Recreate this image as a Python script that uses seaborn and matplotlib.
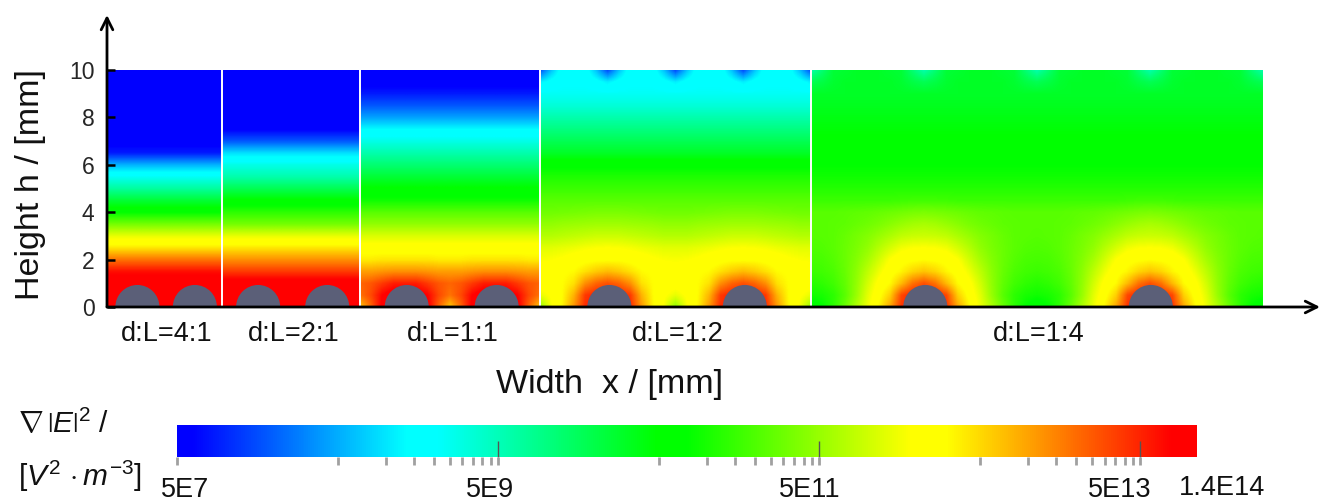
import numpy as np
import matplotlib
matplotlib.use("Agg")
import matplotlib.pyplot as plt
from matplotlib.colors import LogNorm, LinearSegmentedColormap
from matplotlib.cm import ScalarMappable
from matplotlib.patches import Circle, Rectangle
from matplotlib.transforms import blended_transform_factory
import seaborn as sns

# ---------- data ----------
panel_names = ["d:L=4:1", "d:L=2:1", "d:L=1:1", "d:L=1:2", "d:L=1:4"]
panel_edges_mm = [0.0, 4.85, 10.68, 18.27, 29.7, 48.73]
wire_radius_mm = 0.93
y_ticks = [0, 2, 4, 6, 8, 10]

# Rows run y = 10 ... 0 mm in 0.5 mm steps; columns run from above a wire to the midpoint.
p1_profile = [0, 0, 0, 0, 0, 0, 0, 0.15, 0.65, 1.05, 1.35, 1.7, 2, 2.4, 2.8, 3.1, 3.5, 3.85, 4, 4, 4]
p2_profile = [0, 0, 0, 0, 0, 0.05, 0.35, 0.8, 1.1, 1.3, 1.6, 1.9, 2.15, 2.4, 2.8, 3.1, 3.4, 3.7, 4, 4, 4]
p3_upper = [0.05, 0, 0.15, 0.35, 0.6, 0.9, 1.1, 1.3, 1.5, 1.7, 1.9, 2.05, 2.3, 2.5, 2.75, 2.95]
p3_lower = [
    [3.1, 3.1, 3.1, 3.08, 3.08],
    [3.4, 3.4, 3.38, 3.35, 3.35],
    [3.8, 3.8, 3.7, 3.6, 3.55],
    [4, 4, 3.9, 3.65, 3.5],
    [4, 4, 3.95, 3.55, 3.2],
]
p4_grid = [
    [0.3, 0.7, 1, 1, 1, 0.7, 0.3],
    [0.85, 0.95, 1, 1, 1, 0.95, 0.85],
    [1.05, 1.05, 1.05, 1.05, 1.05, 1.05, 1.05],
    [1.15, 1.15, 1.15, 1.15, 1.15, 1.15, 1.15],
    [1.3, 1.3, 1.3, 1.3, 1.3, 1.3, 1.3],
    [1.45, 1.45, 1.45, 1.45, 1.45, 1.45, 1.45],
    [1.6, 1.6, 1.6, 1.6, 1.6, 1.6, 1.6],
    [1.75, 1.75, 1.75, 1.75, 1.75, 1.75, 1.75],
    [1.97, 1.97, 1.97, 1.97, 1.97, 1.97, 1.97],
    [2.1, 2.1, 2.1, 2.1, 2.1, 2.1, 2.1],
    [2.2, 2.2, 2.2, 2.2, 2.2, 2.2, 2.2],
    [2.3, 2.3, 2.3, 2.3, 2.3, 2.3, 2.3],
    [2.42, 2.42, 2.41, 2.4, 2.39, 2.38, 2.38],
    [2.55, 2.55, 2.54, 2.53, 2.52, 2.5, 2.5],
    [2.7, 2.7, 2.68, 2.66, 2.64, 2.62, 2.62],
    [2.88, 2.87, 2.85, 2.82, 2.8, 2.78, 2.78],
    [3.0, 3.0, 2.98, 2.95, 2.9, 2.87, 2.86],
    [3.25, 3.2, 3.12, 3.03, 3.0, 2.95, 2.93],
    [3.62, 3.55, 3.4, 3.12, 3.02, 2.98, 2.95],
    [3.8, 3.8, 3.7, 3.28, 3.03, 2.9, 2.8],
    [3.8, 3.8, 3.75, 3.38, 3.05, 2.85, 2.5],
]
p5_grid = [
    [1.3, 1.5, 1.7, 1.72, 1.75, 1.75, 1.75, 1.72, 1.7, 1.5, 1.3],
    [1.6, 1.65, 1.72, 1.75, 1.75, 1.75, 1.75, 1.75, 1.72, 1.65, 1.6],
    [1.75, 1.75, 1.75, 1.75, 1.75, 1.75, 1.75, 1.75, 1.75, 1.75, 1.75],
    [1.78, 1.78, 1.78, 1.78, 1.78, 1.78, 1.78, 1.78, 1.78, 1.78, 1.78],
    [1.82, 1.82, 1.82, 1.82, 1.82, 1.82, 1.82, 1.82, 1.82, 1.82, 1.82],
    [1.86, 1.86, 1.86, 1.86, 1.86, 1.86, 1.86, 1.86, 1.86, 1.86, 1.86],
    [1.9, 1.9, 1.9, 1.9, 1.9, 1.9, 1.9, 1.9, 1.9, 1.9, 1.9],
    [1.95, 1.95, 1.95, 1.95, 1.95, 1.95, 1.95, 1.95, 1.95, 1.95, 1.95],
    [2, 2, 2, 2, 2, 2, 2, 2, 2, 2, 2],
    [2.05, 2.05, 2.05, 2.05, 2.05, 2.05, 2.05, 2.05, 2.05, 2.05, 2.05],
    [2.12, 2.12, 2.12, 2.12, 2.12, 2.12, 2.12, 2.12, 2.12, 2.12, 2.12],
    [2.22, 2.22, 2.21, 2.2, 2.2, 2.2, 2.2, 2.2, 2.2, 2.2, 2.2],
    [2.42, 2.41, 2.39, 2.37, 2.35, 2.33, 2.32, 2.31, 2.3, 2.3, 2.3],
    [2.58, 2.56, 2.52, 2.47, 2.42, 2.38, 2.35, 2.32, 2.31, 2.3, 2.3],
    [2.7, 2.69, 2.66, 2.59, 2.52, 2.45, 2.4, 2.35, 2.31, 2.3, 2.29],
    [2.88, 2.87, 2.83, 2.73, 2.62, 2.5, 2.42, 2.36, 2.31, 2.28, 2.27],
    [3.02, 3.0, 2.98, 2.88, 2.72, 2.57, 2.45, 2.36, 2.29, 2.25, 2.24],
    [3.22, 3.16, 3.05, 2.97, 2.82, 2.65, 2.48, 2.35, 2.26, 2.22, 2.2],
    [3.62, 3.5, 3.25, 3.03, 2.92, 2.72, 2.5, 2.33, 2.22, 2.16, 2.13],
    [3.8, 3.8, 3.65, 3.18, 2.98, 2.78, 2.52, 2.3, 2.15, 2.08, 2.05],
    [3.8, 3.8, 3.72, 3.33, 3.05, 2.82, 2.6, 2.36, 2.15, 2.0, 1.9],
]

bar_min = 5e7
bar_axis_max = 1.13e14
bar_major = [5e9, 5e11, 5e13]
bar_minor_steps = [1, 2, 3, 4, 5, 6, 7, 8, 9, 10]
bar_minor_decades = [5e8, 5e10, 5e12]
bar_labels = [(5e7, "5E7", 6), (5e9, "5E9", -6), (5e11, "5E11", -6.5), (5e13, "5E13", -15)]

# ---------- style ----------
sns.set_theme(style="white")
plt.rcParams["font.family"] = ["Liberation Sans", "DejaVu Sans"]
plt.rcParams["mathtext.fontset"] = "custom"
plt.rcParams["mathtext.rm"] = "Liberation Sans"
plt.rcParams["mathtext.it"] = "Liberation Sans:italic"
plt.rcParams["mathtext.bf"] = "Liberation Sans:bold"
stops = sns.color_palette(["#0000ff", "#00ffff", "#00ff00", "#ffff00", "#ff0000"])
cmap = LinearSegmentedColormap.from_list("field", [
    (0.0, stops[0]), (0.015, stops[0]), (0.225, stops[1]), (0.255, stops[1]),
    (0.47, stops[2]), (0.50, stops[2]), (0.72, stops[3]), (0.755, stops[3]),
    (0.975, stops[4]), (1.0, stops[4])], N=512)

W, H = 1321, 501
fig = plt.figure(figsize=(W / 100, H / 100), dpi=100, facecolor="white")
ax = fig.add_axes([107 / W, (H - 307) / H, (1320 - 107) / W, (307 - 15) / H])
ax.set_axisbelow(False)

p1_grid = [[v, v] for v in p1_profile]
p2_grid = [[v, v] for v in p2_profile]
p3_grid = [[v] * 5 for v in p3_upper] + p3_lower
half_periods = [p1_grid, p2_grid, p3_grid, p4_grid, p5_grid]

for i, half in enumerate(half_periods):
    half = np.array(half, dtype=float)
    x0, x1 = panel_edges_mm[i], panel_edges_mm[i + 1]
    # midpoint -> wire -> midpoint -> wire -> midpoint
    field = np.hstack([half[:, ::-1], half[:, 1:], half[:, -2::-1], half[:, 1:]])
    hx = (x1 - x0) / (field.shape[1] - 1) / 2
    im = ax.imshow(field, extent=[x0 - hx, x1 + hx, -0.25, 10.25], cmap=cmap, vmin=0, vmax=4,
                   origin="upper", aspect="auto", interpolation="bilinear",
                   interpolation_stage="data", zorder=1)
    im.set_clip_path(Rectangle((x0, 0), x1 - x0, 10, transform=ax.transData))
    quarter = (x1 - x0) / 4
    for c in (x0 + quarter, x0 + 3 * quarter):
        ax.add_patch(Circle((c + 0.07, 0), wire_radius_mm, fc="#5b5f78", ec="none", zorder=2))
    ax.text((x0 + x1) / 2 + 0.1, -1.16, panel_names[i], ha="center", va="center",
            fontsize=19.5, color="#111111", clip_on=False)
for e in panel_edges_mm[1:-1]:
    ax.plot([e, e], [0, 10], color="white", lw=1.4, zorder=3)

ax.set_xlim(0, (1320 - 107) / 23.7)
ax.set_ylim(0, (307 - 15) / 23.7)

sns.despine(ax=ax, top=True, right=True, left=True, bottom=True)
ax.annotate("", xy=(1, 0), xytext=(0, 0), xycoords="axes fraction",
            arrowprops=dict(arrowstyle="->,head_length=0.7,head_width=0.35", color="black", lw=2,
                            shrinkA=0, shrinkB=0), zorder=6)
ax.annotate("", xy=(0, 1), xytext=(0, 0), xycoords="axes fraction",
            arrowprops=dict(arrowstyle="->,head_length=0.7,head_width=0.35", color="black", lw=2,
                            shrinkA=0, shrinkB=0), zorder=6)
ax.set_xticks([])
ax.set_yticks(y_ticks)
ax.tick_params(axis="y", direction="in", length=6, width=1.8, color="black", labelsize=16.5, pad=9, left=True)
ax.set_ylabel("Height h / [mm]", fontsize=24.5, color="#111111")
ax.yaxis.set_label_coords(-0.0505, 0.42)
ax.text(21.2, -3.25, "Width  x / [mm]", ha="center", va="center",
        fontsize=24.5, color="#111111", clip_on=False)

# ---------- colour bar ----------
cax = fig.add_axes([177 / W, (H - 457) / H, (1197 - 177) / W, 32 / H])
cb = fig.colorbar(ScalarMappable(norm=LogNorm(bar_min, bar_axis_max), cmap=cmap), cax=cax, orientation="horizontal")
cb.outline.set_visible(False)
cax.set_axisbelow(False)
cax.xaxis.remove_overlapping_locs = False
cax.set_xticks(bar_major, labels=[])
minor = [bar_min] + [d * s for d in bar_minor_decades for s in bar_minor_steps]
cax.set_xticks(minor, minor=True, labels=[])
cax.tick_params(axis="x", which="major", direction="in", length=11.5, width=1, color="#555555",
                bottom=True, top=False)
cax.tick_params(axis="x", which="minor", direction="out", length=6, width=2, color="#a0a0a0", bottom=True)
trans = blended_transform_factory(cax.transData, cax.transAxes)
for val, label, dx in bar_labels:
    cax.annotate(label, xy=(val, 0), xycoords=trans, xytext=(dx, -24), textcoords="offset points",
                 ha="center", va="center", fontsize=19.5, color="#111111")
fig.text(1222 / W, 1 - 488 / H, "1.4E14", ha="center", va="center", fontsize=19.5, color="#111111")

fig.text(18 / W, 1 - 424 / H, r"$\nabla\,\left|E\right|^{2}$ $\mathit{/}$", ha="left", va="center", fontsize=21.5, color="#111111")
fig.text(18 / W, 1 - 476 / H, r"$[V^{2}\,\cdot m^{-3}]$", ha="left", va="center", fontsize=21.5, color="#111111")

fig.savefig("out.png", dpi=100)
